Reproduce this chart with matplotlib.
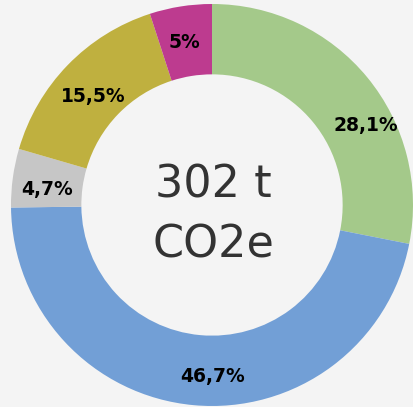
import numpy as np
import matplotlib.pyplot as plt

# Emission shares (%)
shares = [28.1, 46.7, 4.7, 15.5, 5.0]
labels = ['28,1%', '46,7%', '4,7%', '15,5%', '5%']
colors = ['#a4c98a', '#729fd6', '#c6c6c6', '#bfb03f', '#bd3b8f']
total_lines = ['302 t', 'CO2e']

# label placement tweaks (degrees shift from slice middle, radius)
label_shift = [-12, 5.5, 2.5, 1.5, 0.7]
label_r = [0.86, 0.855, 0.826, 0.80, 0.82]

bg = '#f4f4f4'
fig = plt.figure(figsize=(4.14, 4.07), dpi=100, facecolor=bg)
ax = fig.add_axes([0, 0, 1, 1])
ax.set_facecolor(bg)

wedges, _ = ax.pie(shares, colors=colors, startangle=90, counterclock=False,
                   radius=1.0, wedgeprops=dict(width=0.35, linewidth=0))

# slice labels
start = 90
for val, lab, sh, r in zip(shares, labels, label_shift, label_r):
    mid = start - val * 3.6 / 2 + sh
    start -= val * 3.6
    x = r * np.cos(np.radians(mid))
    y = r * np.sin(np.radians(mid))
    ax.text(x, y, lab, ha='center', va='center', fontsize=13.5,
            fontweight='bold', color='black')

# total in the hole, one line at a time
for line, yb in zip(total_lines, [0.035, -0.259]):
    ax.text(0.005, yb, line, ha='center', va='baseline', fontsize=32,
            color='#333333')

# center at (212, 205) px, radius 201 px
ax.set_xlim(-212 / 201, (414 - 212) / 201)
ax.set_ylim(-(407 - 205) / 201, 205 / 201)
ax.set_aspect('equal')
ax.axis('off')

plt.savefig('out.png', dpi=100, facecolor=bg)
